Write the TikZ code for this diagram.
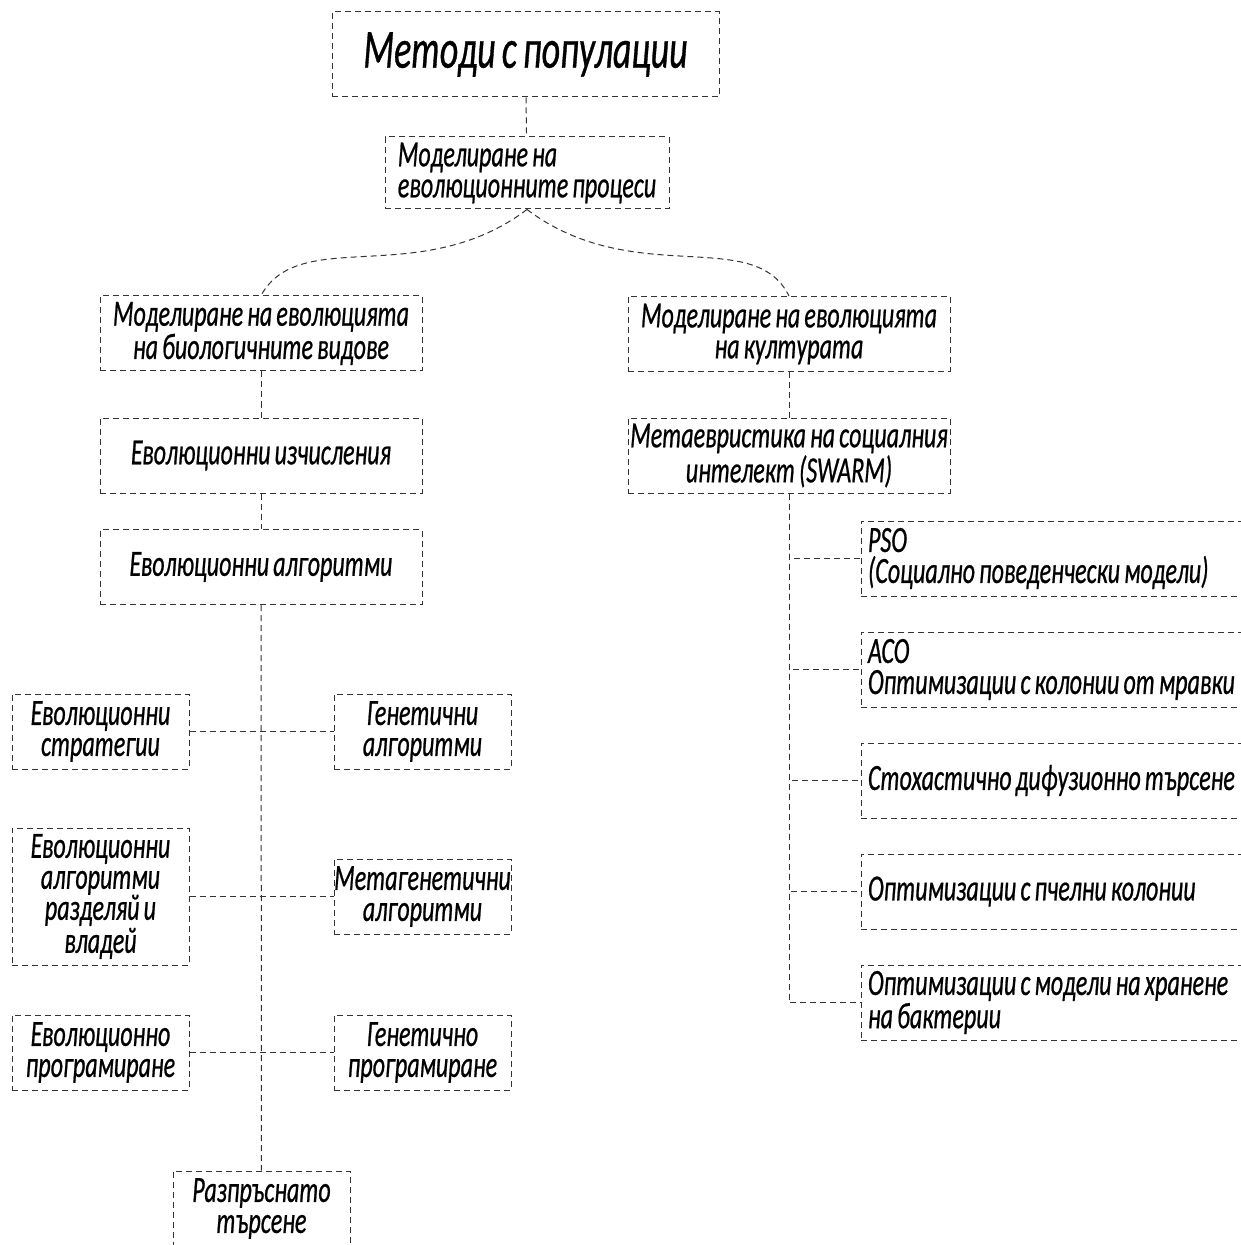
\documentclass[tikz,border=0pt]{standalone}
\usepackage{fontspec}
\setmainfont{Carlito}[FakeStretch=0.65, FakeBold=0.6, WordSpace=0.75]
\tikzset{
	box/.style={draw=black!80, dash pattern=on 3pt off 2pt, line width=0.5pt,
		inner sep=0pt, align=center, font=\itshape\fontsize{18.5}{15.5}\selectfont},
	wide/.style={box, minimum width=161pt, minimum height=37.5pt},
	small/.style={box, minimum width=88.5pt, minimum height=37.5pt},
	side/.style={box, align=flush left, inner xsep=3.5pt, text width=230pt, minimum height=37.5pt},
	link/.style={draw=black!80, dash pattern=on 3pt off 2pt, line width=0.5pt},
}
\begin{document}
\begin{tikzpicture}[x=0.5pt, y=-0.5pt]
	\useasboundingbox (0,0) rectangle (1240,1245);
	% Top levels:
	\node[box, minimum width=193.5pt, minimum height=42.5pt, font=\itshape\fontsize{27.7}{27}\selectfont] (top) at (525.5, 54.5) {Методи с популации};
	\node[box, align=left, minimum width=142pt, minimum height=36pt] (proc) at (527, 173) {Моделиране на\\ еволюционните процеси};
	\node[wide] (bio) at (261, 333.5) {Моделиране на еволюцията\\ на биологичните видове};
	\node[wide] (cult) at (789, 334) {Моделиране на еволюцията\\ на културата};
	\node[wide] (evcomp) at (261, 455.5) {Еволюционни изчисления};
	\node[wide] (swarm) at (789, 455.5) {Метаевристика на социалния\\ интелект (SWARM)};
	\node[wide] (evalg) at (261, 567) {Еволюционни алгоритми};
	% Left branch:
	\node[small] (es) at (100.5, 731.5) {Еволюционни\\ стратегии};
	\node[small] (ga) at (422.5, 731.5) {Генетични\\ алгоритми};
	\node[small, minimum height=68.5pt] (dc) at (100.5, 896.5) {Еволюционни\\ алгоритми\\ разделяй и\\ владей};
	\node[small] (mg) at (422.5, 896.5) {Метагенетични\\ алгоритми};
	\node[small] (ep) at (100.5, 1052.5) {Еволюционно\\ програмиране};
	\node[small] (gp) at (422.5, 1052.5) {Генетично\\ програмиране};
	\node[small] (scat) at (261.5, 1208.5) {Разпръснато\\ търсене};
	% Right branch:
	\node[side] (pso) at (1098, 558.5) {PSO\\ (Социално поведенчески модели)};
	\node[side] (aco) at (1098, 669.5) {ACO\\ Оптимизации с колонии от мравки};
	\node[side] (sds) at (1098, 780.5) {Стохастично дифузионно търсене};
	\node[side] (bee) at (1098, 891.5) {Оптимизации с пчелни колонии};
	\node[side] (bact) at (1098, 1002.5) {Оптимизации с модели на хранене\\ на бактерии};
	% Connectors:
	\draw[link] (top) -- (proc);
	\draw[link] (proc.south) .. controls (420, 290) and (300, 225) .. (bio.north);
	\draw[link] (proc.south) .. controls (634, 290) and (754, 225) .. (cult.north);
	\draw[link] (bio) -- (evcomp);
	\draw[link] (evcomp) -- (evalg);
	\draw[link] (cult) -- (swarm);
	\draw[link] (evalg) -- (scat);
	\draw[link] (es) -- (ga);
	\draw[link] (dc) -- (mg);
	\draw[link] (ep) -- (gp);
	\foreach \n in {pso, aco, sds, bee, bact}
		\draw[link] (swarm.south) |- (\n.west);
\end{tikzpicture}
\end{document}
